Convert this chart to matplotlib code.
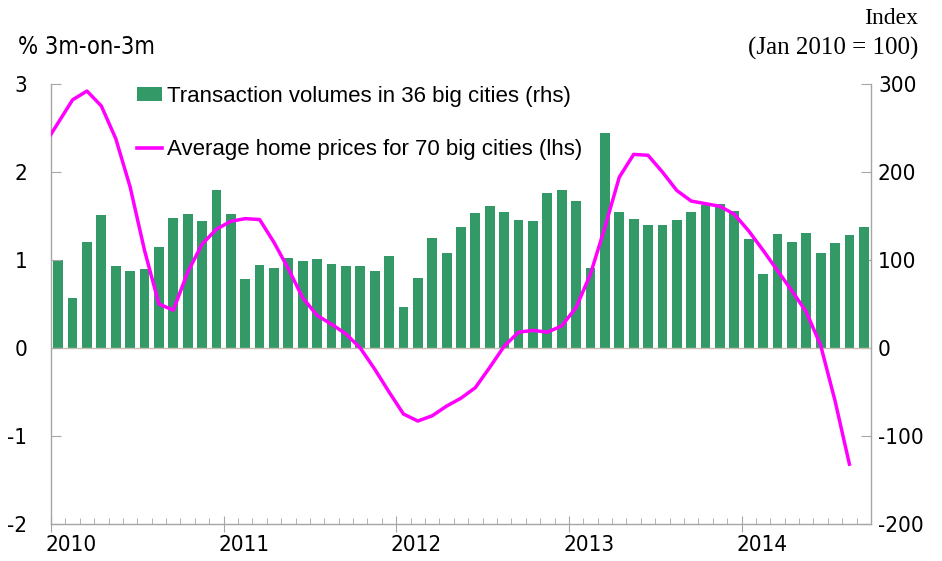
import numpy as np
import matplotlib
matplotlib.use("Agg")
import matplotlib.pyplot as plt
from matplotlib.patches import Patch
from matplotlib.lines import Line2D
from matplotlib.ticker import FixedLocator, NullFormatter

plt.rcParams['axes.unicode_minus'] = False

# ---------------- data ----------------
years = [2010, 2011, 2012, 2013, 2014]
# Monthly transaction volumes (rhs, index Jan 2010 = 100), Jan 2010 - Sep 2014
volumes = [100, 57, 121, 151, 93, 87, 90, 115, 148, 152, 144, 180,
           152, 78, 94, 91, 102, 99, 101, 96, 93, 93, 87, 104,
           47, 79, 125, 108, 138, 153, 161, 155, 145, 144, 176, 180,
           167, 91, 244, 155, 147, 140, 140, 146, 155, 162, 164, 156,
           124, 84, 129, 121, 131, 108, 119, 128, 137]
# Average home prices % 3m-on-3m (lhs), Dec 2009 - Aug 2014
prices = [2.30,
          2.56, 2.82, 2.92, 2.75, 2.38, 1.83, 1.11, 0.50, 0.43, 0.86, 1.18, 1.35,
          1.44, 1.47, 1.46, 1.20, 0.90, 0.57, 0.37, 0.27, 0.16, 0.00, -0.24, -0.50,
          -0.75, -0.83, -0.77, -0.66, -0.57, -0.45, -0.22, 0.02, 0.18, 0.20, 0.18, 0.25,
          0.46, 0.84, 1.37, 1.94, 2.20, 2.19, 2.00, 1.79, 1.67, 1.64, 1.61, 1.52,
          1.33, 1.11, 0.88, 0.65, 0.41, 0.03, -0.60, -1.32]
left_ticks = [-2, -1, 0, 1, 2, 3]
left_labels = ['-2', '-1', '0', '1', '2', '3']
right_ticks = [-200, -100, 0, 100, 200, 300]
right_labels = ['-200', '-100', '0', '100', '200', '300']
bar_label = 'Transaction volumes in 36 big cities (rhs)'
line_label = 'Average home prices for 70 big cities (lhs)'

# ---------------- styling ----------------
GREEN = '#339966'
MAGENTA = '#FF00FF'
GREY = '#A6A6A6'
NARROW = dict(family='DejaVu Sans', stretch='condensed')
SANS = ['Liberation Sans', 'DejaVu Sans']
SERIF = ['Liberation Serif', 'DejaVu Serif']

fig = plt.figure(figsize=(9.42, 5.61), dpi=100)
ax = fig.add_axes([51 / 942, 37 / 561, 820 / 942, 440 / 561])
ax2 = ax.twinx()

n = len(volumes)
bar_x = np.arange(n) + 0.5
ax2.bar(bar_x, volumes, width=0.68, color=GREEN, zorder=2)
ax2.set_ylim(-200, 300)

price_x = np.arange(len(prices)) - 0.5
ax.axhline(0, color='#C8C0B0', lw=1.0, zorder=1)
ax.plot(price_x, prices, color=MAGENTA, lw=2.5, solid_joinstyle='round', zorder=3)
ax.set_ylim(-2, 3)
ax.set_xlim(0, n)

ax.set_zorder(ax2.get_zorder() + 1)
ax.patch.set_visible(False)

# spines
for s in ['top', 'right']:
    ax.spines[s].set_visible(False)
for s in ['top', 'left', 'bottom']:
    ax2.spines[s].set_visible(False)
for sp in [ax.spines['left'], ax.spines['bottom'], ax2.spines['right']]:
    sp.set_color(GREY)
    sp.set_linewidth(1.0)

# y ticks
ax.set_yticks(left_ticks)
ax.set_yticklabels(left_labels, fontsize=16, **NARROW)
ax.tick_params(axis='y', direction='in', length=7, color=GREY, pad=17)
ax2.set_yticks(right_ticks)
ax2.set_yticklabels(right_labels, fontsize=16, **NARROW)
ax2.tick_params(axis='y', direction='in', length=7, color=GREY, pad=5)

# x ticks: year majors, monthly minors
year_pos = [12 * i for i in range(len(years))]
ax.xaxis.set_major_locator(FixedLocator(year_pos))
ax.xaxis.set_minor_locator(FixedLocator(np.arange(0, n + 1)))
ax.xaxis.set_major_formatter(NullFormatter())
ax.tick_params(axis='x', which='major', direction='inout', length=12, color=GREY)
ax.tick_params(axis='x', which='minor', direction='in', length=4, color=GREY)
for p, y in zip(year_pos, years):
    ax.text(p + 1.4, -0.048, str(y), transform=ax.get_xaxis_transform(),
            ha='center', va='center', fontsize=16, **NARROW)

# legend
handles = [Patch(facecolor=GREEN, edgecolor='none'),
           Line2D([0], [0], color=MAGENTA, lw=2.6)]
leg = ax.legend(handles, [bar_label, line_label], loc='upper left',
                bbox_to_anchor=((137 - 51) / 820, (524 - 86) / 440),
                frameon=False, prop={'family': SANS, 'size': 16},
                handlelength=1.13, handleheight=0.55, handletextpad=0.2,
                labelspacing=1.45, borderpad=0, borderaxespad=0)

# header texts
fig.text(18 / 942, 1 - 47 / 561, '% 3m-on-3m', ha='left', va='center',
         fontsize=17, **NARROW)
fig.text(918 / 942, 1 - 18 / 561, 'Index', ha='right', va='center',
         family=SERIF, fontsize=17)
fig.text(918 / 942, 1 - 48 / 561, '(Jan 2010 = 100)', ha='right', va='center',
         family=SERIF, fontsize=18)

fig.savefig('out.png', dpi=100)
